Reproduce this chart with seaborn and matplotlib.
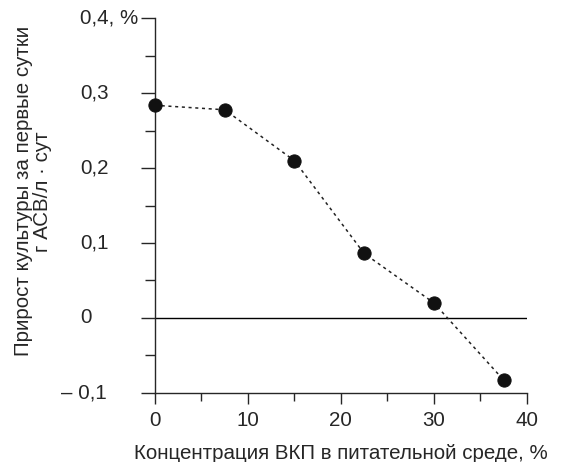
import numpy as np
import pandas as pd
import matplotlib
matplotlib.use("Agg")
import matplotlib.pyplot as plt
import seaborn as sns

# данные
concentration = [0, 7.5, 15, 22.5, 30, 37.5]
growth = [0.284, 0.278, 0.21, 0.086, 0.02, -0.083]

y_major = [0.4, 0.3, 0.2, 0.1, 0, -0.1]
y_labels = ["0,4, %", "0,3", "0,2", "0,1", "0", "– 0,1"]
x_major = [0, 10, 20, 30, 40]
x_labels = ["0", "10", "20", "30", "40"]

sns.set_style("ticks")
plt.rcParams['font.family'] = ['Liberation Sans', 'DejaVu Sans']

FS = 14.8

df = pd.DataFrame({"conc": concentration, "growth": growth})

fig = plt.figure(figsize=(5.72, 4.62), dpi=100)
ax = fig.add_axes([0.271, 0.150, 0.650, 0.810])

ax.axhline(0, color="black", lw=1.0, zorder=1)
sns.lineplot(data=df, x="conc", y="growth", color="#222222", lw=1.1,
             linestyle=(0, (2.0, 2.4)), marker="o", markersize=9.5,
             markeredgecolor="#111111", markerfacecolor="#111111",
             ax=ax, zorder=3, clip_on=False)

ax.set_xlim(0, 40)
ax.set_ylim(-0.1, 0.4)

for side in ["top", "right"]:
    ax.spines[side].set_visible(False)
for side in ["left", "bottom"]:
    ax.spines[side].set_linewidth(1.0)

ax.set_xticks(x_major)
ax.set_xticklabels(x_labels, fontsize=FS)
ax.set_xticks([5, 15, 25, 35], minor=True)
ax.set_yticks(y_major)
ax.set_yticklabels([""] * len(y_major))
ax.set_yticks([0.35, 0.25, 0.15, 0.05, -0.05], minor=True)

ax.tick_params(axis="x", which="major", length=8, width=1.0, pad=5)
ax.tick_params(axis="x", which="minor", length=6, width=1.0)
ax.tick_params(axis="y", which="major", length=10, width=1.0)
ax.tick_params(axis="y", which="minor", length=7, width=1.0)

# подписи оси Y выровнены по левому краю, как в оригинале
ytr = ax.get_yaxis_transform()
for val, lab in zip(y_major, y_labels):
    if lab.startswith("–"):
        ax.text(-0.129, val, lab, transform=ytr, ha="right", va="center", fontsize=FS)
    else:
        ax.text(-0.2016, val, lab, transform=ytr, ha="left", va="center", fontsize=FS)

ax.set_xlabel("Концентрация ВКП в питательной среде, %", fontsize=FS, labelpad=10)
ax.set_ylabel("")
fig.text(0.058, 0.586, "Прирост культуры за первые сутки\nг АСВ/л · сут",
         rotation=90, ha="center", va="center", fontsize=FS, linespacing=1.0)

fig.savefig("out.png", dpi=100)
